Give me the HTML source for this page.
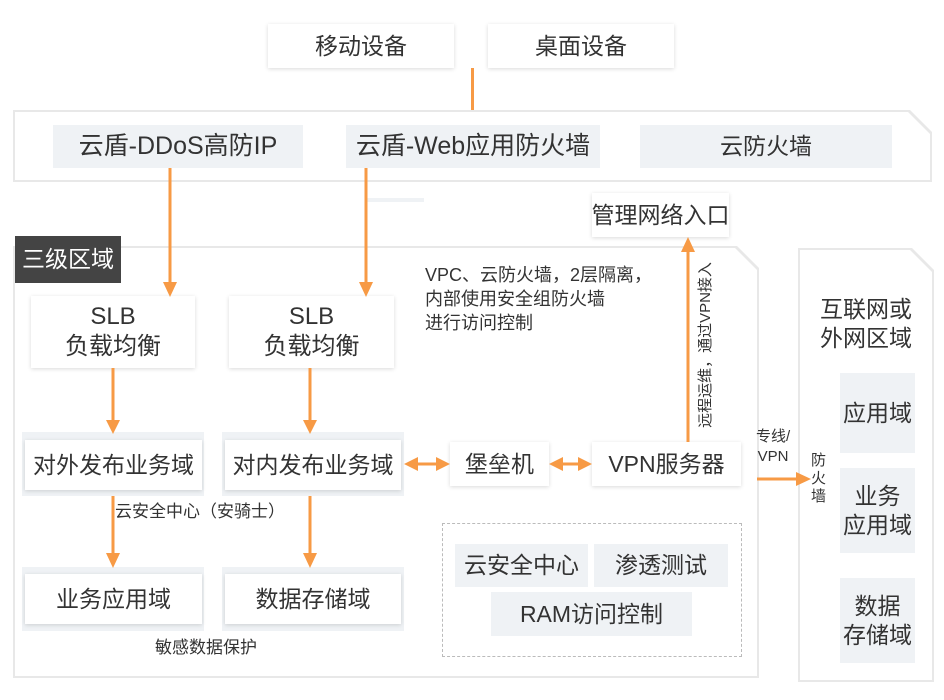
<!DOCTYPE html>
<html><head><meta charset="utf-8"><style>
body{margin:0;width:944px;height:700px;background:#fff;position:relative;overflow:hidden;font-family:"Liberation Sans","Noto Sans CJK SC",sans-serif;color:#333}
.a{position:absolute;box-sizing:border-box}
.w{background:#fff;box-shadow:0 1px 4px rgba(0,0,0,.15)}
.g{background:#eff2f5}
.c{display:flex;align-items:center;justify-content:center;text-align:center;font-size:23px;line-height:1.25;white-space:nowrap}
.cut{clip-path:polygon(0 0,calc(100% - 22px) 0,100% 22px,100% 100%,0 100%)}
</style></head><body>
<div class="a w c" style="left:268px;top:24px;width:186px;height:44px">移动设备</div>
<div class="a w c" style="left:488px;top:24px;width:186px;height:44px">桌面设备</div>
<div class="a" style="left:471px;top:68px;width:3px;height:44px;background:#f79a45"></div>

<div class="a cut" style="left:13px;top:110px;width:919px;height:72px;background:#e8e8e8"></div>
<div class="a cut" style="left:15px;top:112px;width:915px;height:68px;background:#fff"></div>
<div class="a g c" style="left:53px;top:125px;width:250px;height:43px;font-size:25px">云盾-DDoS高防IP</div>
<div class="a g c" style="left:346px;top:125px;width:254px;height:43px;font-size:25px">云盾-Web应用防火墙</div>
<div class="a g c" style="left:640px;top:125px;width:252px;height:43px">云防火墙</div>
<div class="a" style="left:366px;top:198px;width:58px;height:4px;background:#eff2f5"></div>

<div class="a cut" style="left:13px;top:246px;width:746px;height:432px;background:#e8e8e8"></div>
<div class="a cut" style="left:15px;top:248px;width:742px;height:428px;background:#fff"></div>
<div class="a c" style="left:15px;top:236px;width:106px;height:47px;background:#444;color:#fff;font-size:23px">三级区域</div>

<div class="a cut" style="left:798px;top:248px;width:136px;height:434px;background:#e8e8e8"></div>
<div class="a cut" style="left:800px;top:250px;width:132px;height:430px;background:#fff"></div>
<div class="a c" style="left:800px;top:292px;width:132px;height:64px;font-size:23px">互联网或<br>外网区域</div>
<div class="a g c" style="left:840px;top:373px;width:75px;height:80px">应用域</div>
<div class="a g c" style="left:840px;top:468px;width:75px;height:85px">业务<br>应用域</div>
<div class="a g c" style="left:840px;top:578px;width:75px;height:85px">数据<br>存储域</div>

<div class="a w c" style="left:592px;top:193px;width:137px;height:44px">管理网络入口</div>

<div class="a w c" style="left:31px;top:296px;width:164px;height:72px;font-size:24px">SLB<br>负载均衡</div>
<div class="a w c" style="left:229px;top:296px;width:165px;height:72px;font-size:24px">SLB<br>负载均衡</div>

<div class="a" style="left:425px;top:263px;font-size:18px;line-height:24px">VPC、云防火墙，2层隔离，<br>内部使用安全组防火墙<br>进行访问控制</div>
<div class="a" style="left:606px;top:335px;width:200px;height:20px;font-size:15px;line-height:20px;transform:rotate(-90deg);text-align:center;white-space:nowrap">远程运维，通过VPN接入</div>

<div class="a g" style="left:22px;top:432px;width:182px;height:64px"></div>
<div class="a w c" style="left:25px;top:440px;width:177px;height:50px">对外发布业务域</div>
<div class="a g" style="left:222px;top:432px;width:182px;height:64px"></div>
<div class="a w c" style="left:225px;top:440px;width:176px;height:50px">对内发布业务域</div>
<div class="a w c" style="left:450px;top:442px;width:99px;height:44px">堡垒机</div>
<div class="a w c" style="left:592px;top:442px;width:149px;height:44px">VPN服务器</div>
<div class="a" style="left:756px;top:427px;font-size:15px;line-height:20px;text-align:center">专线/<br>VPN</div>
<div class="a" style="left:811px;top:452px;width:17px;font-size:15px;line-height:18px">防火墙</div>

<div class="a" style="left:115px;top:497px;font-size:17px">云安全中心（安骑士）</div>
<div class="a g" style="left:22px;top:567px;width:182px;height:64px"></div>
<div class="a w c" style="left:25px;top:574px;width:177px;height:50px">业务应用域</div>
<div class="a g" style="left:222px;top:567px;width:182px;height:64px"></div>
<div class="a w c" style="left:225px;top:574px;width:176px;height:50px">数据存储域</div>
<div class="a" style="left:155px;top:633px;font-size:17px">敏感数据保护</div>

<div class="a" style="left:442px;top:523px;width:300px;height:134px;border:1.5px dashed #bbb"></div>
<div class="a g c" style="left:455px;top:544px;width:133px;height:43px">云安全中心</div>
<div class="a g c" style="left:594px;top:544px;width:134px;height:43px">渗透测试</div>
<div class="a g c" style="left:491px;top:592px;width:201px;height:44px">RAM访问控制</div>

<svg class="a" style="left:0;top:0" width="944" height="700">
<g stroke="#f79a45" stroke-width="3" fill="none">
<line x1="170" y1="168" x2="170" y2="282"/>
<line x1="366" y1="168" x2="366" y2="282"/>
<line x1="113" y1="368" x2="113" y2="420"/>
<line x1="310" y1="368" x2="310" y2="420"/>
<line x1="113" y1="496" x2="113" y2="555"/>
<line x1="310" y1="496" x2="310" y2="555"/>
<line x1="688" y1="442" x2="688" y2="250"/>
<line x1="416" y1="464" x2="438" y2="464"/>
<line x1="561" y1="464" x2="580" y2="464"/>
<line x1="757" y1="479" x2="798" y2="479"/>
</g>
<g fill="#f79a45">
<polygon points="163,282 177,282 170,297"/>
<polygon points="359,282 373,282 366,297"/>
<polygon points="106,420 120,420 113,434"/>
<polygon points="303,420 317,420 310,434"/>
<polygon points="106,553 120,553 113,568"/>
<polygon points="303,553 317,553 310,568"/>
<polygon points="681,252 695,252 688,237"/>
<polygon points="404,464 418,457 418,471"/>
<polygon points="450,464 436,457 436,471"/>
<polygon points="549,464 563,457 563,471"/>
<polygon points="592,464 578,457 578,471"/>
<polygon points="811,479 796,472 796,486"/>
</g>
</svg>
</body></html>
